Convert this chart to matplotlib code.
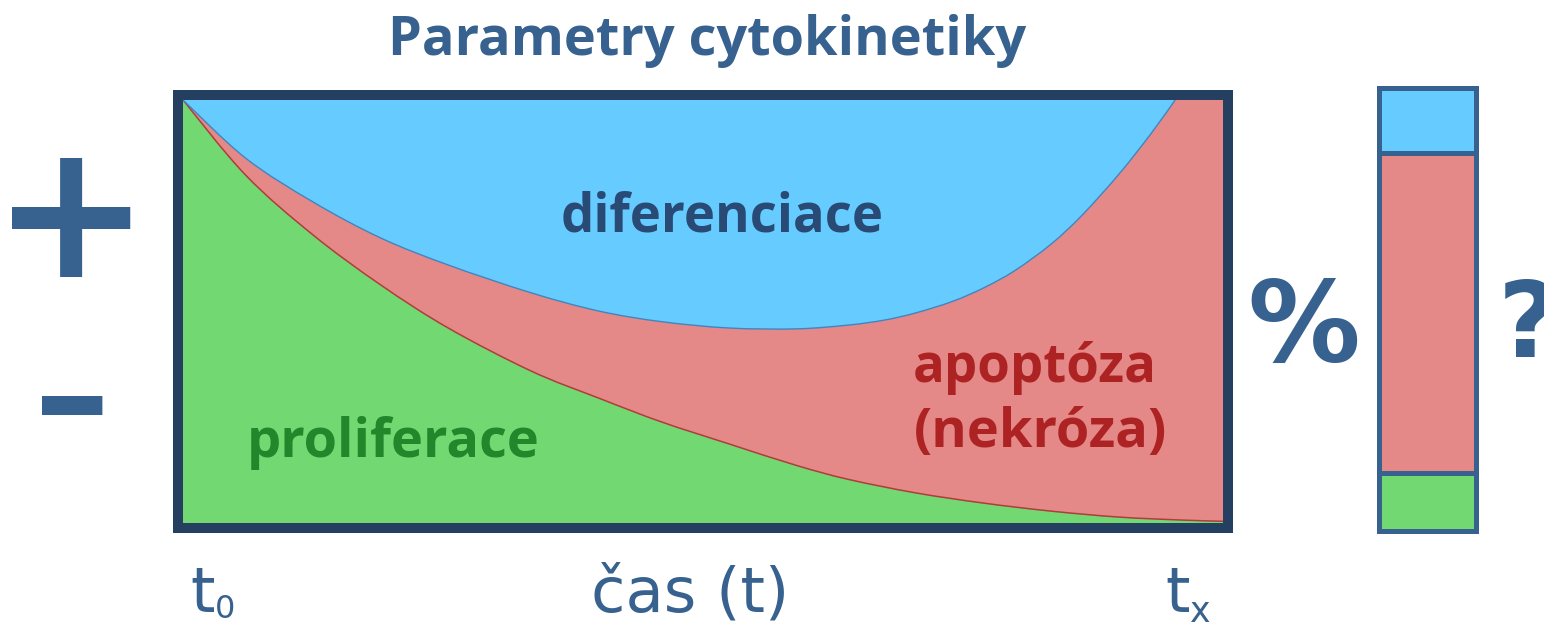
import numpy as np
import matplotlib.pyplot as plt
from matplotlib.patches import Rectangle, PathPatch
from matplotlib.path import Path

# time axis (0 = t0, 100 = tx), shares in % of the cell population
t = [0, 6, 12.5, 19, 25.5, 33.5, 40, 46, 52.5, 59, 64, 70.5, 77, 83.5, 90, 96, 100]
proliferace = [100, 82.3, 68.1, 56.3, 46.1, 35.9, 29.5, 23.9, 18.7, 13.6, 10.3,
               7.1, 4.7, 2.8, 1.4, 0.7, 0.4]
# lower edge of the differentiation area (it reaches the top at ~95.4)
t_dif = [0, 6, 12.5, 19, 25.5, 33.5, 40, 46, 52.5, 59, 64, 67.5, 70.5, 74, 77,
         80, 83.5, 86.5, 90, 93, 95.4]
diferenciace = [100, 86.3, 75.9, 67.4, 61.0, 54.4, 50.1, 47.6, 46.1, 45.9, 46.8,
                48.0, 49.7, 52.4, 55.6, 59.7, 66.0, 72.9, 82.5, 91.8, 100]

# final composition at tx (bottom -> top)
bar_names = ['proliferace', 'apoptoza', 'diferenciace']
bar_shares = [13.0, 72.4, 14.6]

c_green = '#72D972'
c_red = '#E48888'
c_blue = '#66CCFF'
c_bar = [c_green, c_red, c_blue]
navy = '#243F60'
steel = '#37618F'

W, H = 1544, 629
fig = plt.figure(figsize=(W / 100, H / 100), dpi=100)


def fx(px):
    return px / W


def fy(py):
    return 1 - py / H


def smooth(xs, ys):
    # bezier segments through the read points (catmull-rom tangents)
    p = np.column_stack([xs, ys]).astype(float)
    verts = [p[0]]
    codes = [Path.MOVETO]
    n = len(p)
    for i in range(n - 1):
        p0, p1 = p[max(i - 1, 0)], p[i]
        p2, p3 = p[i + 1], p[min(i + 2, n - 1)]
        verts += [p1 + (p2 - p0) / 6, p2 - (p3 - p1) / 6, p2]
        codes += [Path.CURVE4] * 3
    return verts, codes


# main box
ax = fig.add_axes([fx(178), fy(528), 1050 / W, 433 / H])
ax.add_patch(Rectangle((0, 0), 100, 100, color=c_red, lw=0))

v, c = smooth(t, proliferace)
green_path = Path(v + [(100, 0), (0, 0), (0, 100)],
                  c + [Path.LINETO, Path.LINETO, Path.CLOSEPOLY])
ax.add_patch(PathPatch(green_path, fc=c_green, lw=0))
ax.add_patch(PathPatch(Path(v, c), fill=False, ec='#B23B3B', lw=1.1))

v, c = smooth(t_dif, diferenciace)
blue_path = Path(v + [(0, 100)], c + [Path.CLOSEPOLY])
ax.add_patch(PathPatch(blue_path, fc=c_blue, lw=0))
ax.add_patch(PathPatch(Path(v, c), fill=False, ec='#3F86C0', lw=1.0))

ax.set_xlim(-0.48, 100.48)
ax.set_ylim(-1.18, 101.18)
ax.axis('off')
ax.add_patch(Rectangle((0, 0), 1, 1, transform=ax.transAxes, fill=False,
                       lw=7.2, ec=navy, joinstyle='miter', clip_on=False, zorder=5))

# stacked bar on the right
bx = fig.add_axes([fx(1378.5), fy(530.5), 97 / W, 442 / H])
bottoms = np.concatenate([[0], np.cumsum(bar_shares)[:-1]])
for share, bottom, col in zip(bar_shares, bottoms, c_bar):
    bx.bar(0, share, bottom=bottom, width=1, color=col, edgecolor=steel,
           lw=3.6, clip_on=False)
bx.set_xlim(-0.5, 0.5)
bx.set_ylim(0, 100)
bx.axis('off')

bold = dict(family='Open Sans', weight='bold')
fig.text(fx(707), fy(55), 'Parametry cytokinetiky', fontsize=39, color=steel,
         ha='center', va='baseline', **bold)
fig.text(fx(722), fy(232), 'diferenciace', fontsize=38, color='#284A74',
         ha='center', va='baseline', **bold)
fig.text(fx(393), fy(457), 'proliferace', fontsize=39, color='#22862A',
         ha='center', va='baseline', **bold)
fig.text(fx(1035), fy(382), 'apoptóza', fontsize=38, color='#AD2222',
         ha='center', va='baseline', **bold)
fig.text(fx(1041), fy(447), '(nekróza)', fontsize=39, color='#AD2222',
         ha='center', va='baseline', **bold)

sym = dict(family='DejaVu Sans', weight='bold', color=steel)
fig.text(fx(71), fy(277), '+', fontsize=136, ha='center', va='baseline', **sym)
fig.text(fx(72), fy(471), '-', fontsize=178, ha='center', va='baseline',
         family='Liberation Sans', color=steel)
fig.text(fx(1304), fy(361), '%', fontsize=81, ha='center', va='baseline', **sym)
fig.text(fx(1498), fy(357), '?', fontsize=76, ha='left', va='baseline', **sym)

reg = dict(family='DejaVu Sans', color=steel)
fig.text(fx(190), fy(612), 't', fontsize=45, ha='left', va='baseline', **reg)
fig.text(fx(215), fy(618), '0', fontsize=23, ha='left', va='baseline', **reg)
fig.text(fx(690), fy(612), 'čas (t)', fontsize=45, ha='center', va='baseline', **reg)
fig.text(fx(1165), fy(612), 't', fontsize=45, ha='left', va='baseline', **reg)
fig.text(fx(1190), fy(622), 'x', fontsize=25, ha='left', va='baseline', **reg)

fig.savefig('out.png', dpi=100)
